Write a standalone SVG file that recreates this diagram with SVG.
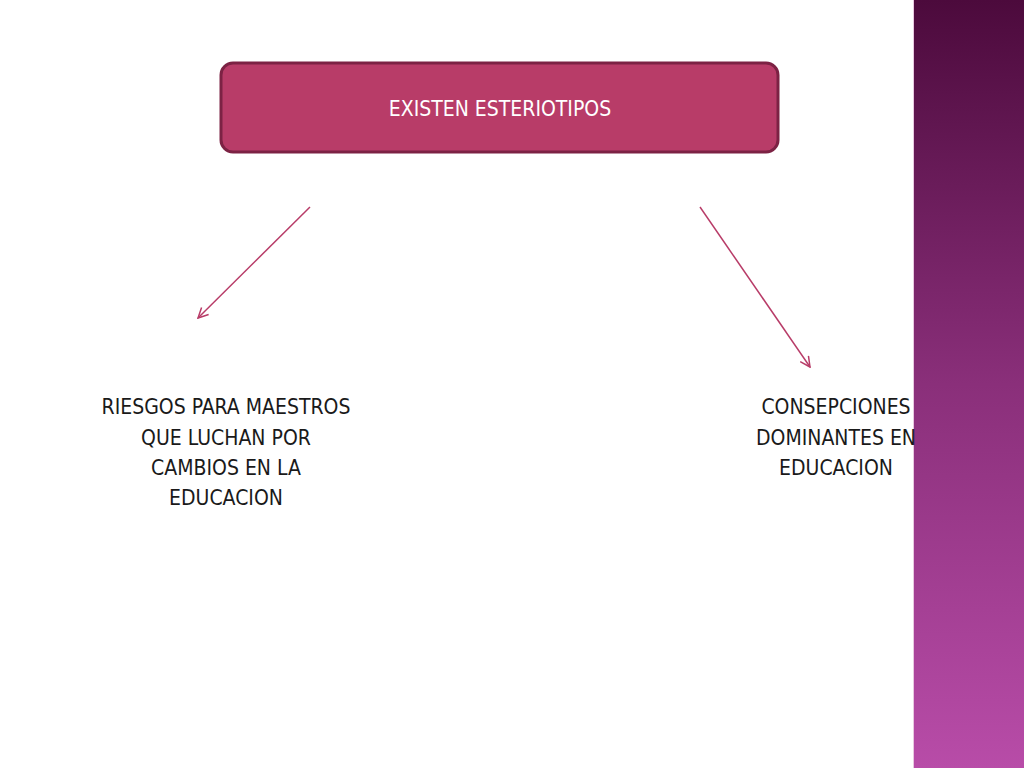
<svg xmlns="http://www.w3.org/2000/svg" width="1024" height="768" viewBox="0 0 1024 768">
<defs>
<linearGradient id="side" x1="0" y1="0" x2="0" y2="1">
<stop offset="0" stop-color="#4c0a3c"/>
<stop offset="0.5" stop-color="#8a2f7a"/>
<stop offset="1" stop-color="#b84ca8"/>
</linearGradient>
<marker id="arr" viewBox="0 0 12 12" refX="11" refY="6" markerWidth="12" markerHeight="12" markerUnits="userSpaceOnUse" orient="auto">
<path d="M1,1 L11,6 L1,11" fill="none" stroke="#b83c68" stroke-width="1.5"/>
</marker>
<style>
text{font-family:"DejaVu Sans Condensed","DejaVu Sans",sans-serif;font-size:21px;text-anchor:middle}
.lbl{fill:#1a1a1a}
.c{stroke:#b83c68;stroke-width:1.5;fill:none;marker-end:url(#arr)}
</style>
</defs>
<rect width="1024" height="768" fill="#fff"/>
<rect x="913" y="0" width="111" height="768" fill="url(#side)"/>
<line x1="913.5" y1="0" x2="913.5" y2="768" stroke="#e8c8e0" stroke-width="1"/>
<g id="top">
<rect x="221" y="63" width="557" height="89" rx="12" fill="#b83c68" stroke="#7c2244" stroke-width="3"/>
<text x="500" y="116" fill="#fff">EXISTEN  ESTERIOTIPOS</text>
</g>
<g id="left">
<text class="lbl" x="226" y="414">RIESGOS PARA MAESTROS</text>
<text class="lbl" x="226" y="445">QUE LUCHAN POR</text>
<text class="lbl" x="226" y="475">CAMBIOS EN LA</text>
<text class="lbl" x="226" y="505">EDUCACION</text>
</g>
<g id="right">
<text class="lbl" x="836" y="414">CONSEPCIONES</text>
<text class="lbl" x="836" y="445">DOMINANTES EN</text>
<text class="lbl" x="836" y="475">EDUCACION</text>
</g>
<g id="connectors">
<line class="c" x1="310" y1="207" x2="198" y2="318"/>
<line class="c" x1="700" y1="207" x2="810" y2="367"/>
</g>
</svg>
